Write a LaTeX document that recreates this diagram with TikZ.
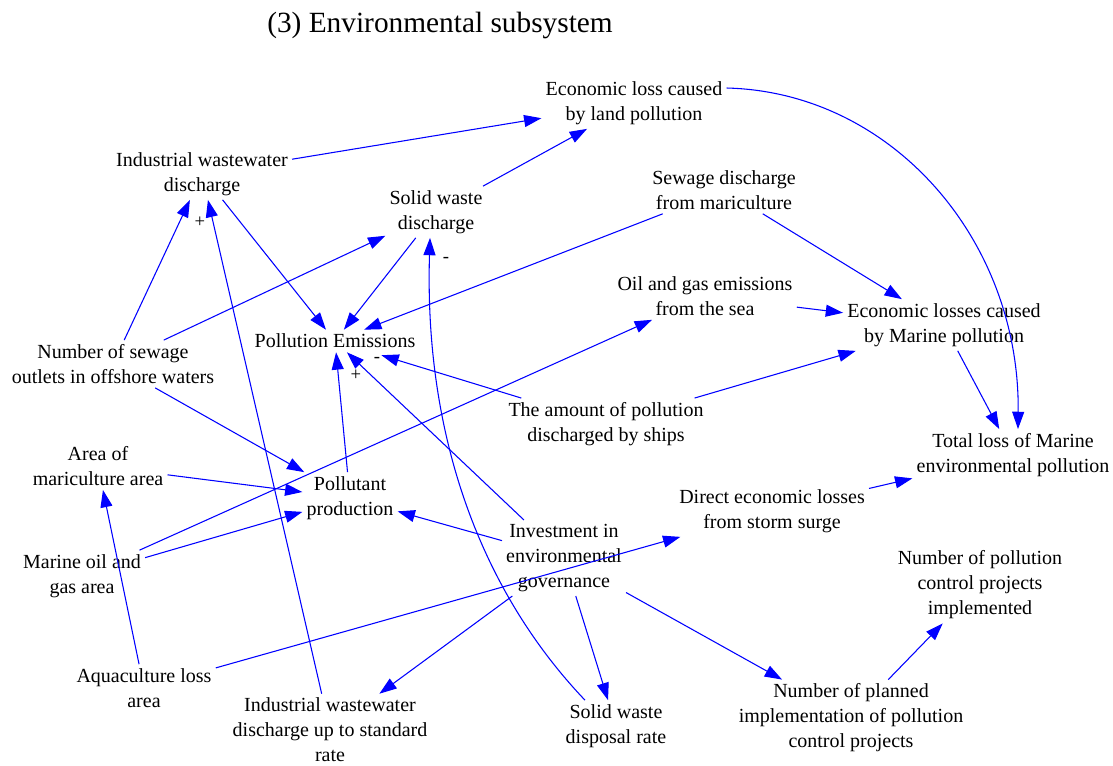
\documentclass[tikz,border=0pt]{standalone}
\usepackage{fontspec}
\setmainfont{Liberation Serif}
\usetikzlibrary{arrows.meta}
\definecolor{linkblue}{RGB}{0,0,255}
\begin{document}
\begin{tikzpicture}[x=0.75pt,y=-0.75pt,
  var/.style={align=center,inner sep=3pt,font=\fontsize{15}{18.75}\selectfont},
  link/.style={draw=linkblue,line width=0.8pt,-{Triangle[length=13pt,width=9pt]},fill=none},
  sign/.style={inner sep=0pt,font=\fontsize{14}{16}\selectfont}]
\useasboundingbox (0,0) rectangle (1113,765);

% heading
\node (title) at (440,25) {\fontsize{22}{26}\selectfont (3) Environmental subsystem};

% variables
\node[var] (land)  at (634,103) {Economic loss caused\\by land pollution};
\node[var] (iwd)   at (202,174) {Industrial wastewater\\discharge};
\node[var] (swd)   at (436,212) {Solid waste\\discharge};
\node[var] (smc)   at (724,190) {Sewage discharge\\from mariculture};
\node[var] (oge)   at (705,296) {Oil and gas emissions\\from the sea};
\node[var] (elm)   at (944,325) {Economic losses caused\\by Marine pollution};
\node[var] (pe)    at (335,341) {Pollution Emissions};
\node[var] (nso)   at (113,364) {Number of sewage\\outlets in offshore waters};
\node[var] (ships) at (606,424) {The amount of pollution\\discharged by ships};
\node[var] (tl)    at (1013,455) {Total loss of Marine\\environmental pollution};
\node[var] (area)  at (98,466) {Area of\\mariculture area};
\node[var] (pp)    at (350,498) {Pollutant\\production};
\node[var] (del)   at (772,511) {Direct economic losses\\from storm surge};
\node[var] (inv)   at (564,558) {Investment in\\environmental\\governance};
\node[var] (moga)  at (82,576) {Marine oil and\\gas area};
\node[var] (npc)   at (980,585) {Number of pollution\\control projects\\implemented};
\node[var] (aqua)  at (144,688) {Aquaculture loss\\area};
\node[var] (iwdr)  at (330,730) {Industrial wastewater\\discharge up to standard\\rate};
\node[var] (sdr)   at (616,726) {Solid waste\\disposal rate};
\node[var] (npi)   at (851,718) {Number of planned\\implementation of pollution\\control projects};

% polarity marks
\node[sign] (p1) at (200,222) {+};
\node[sign] (m1) at (446,260) {-};
\node[sign] (p2) at (356,375) {+};
\node[sign] (m2) at (377,360) {-};

% causal links
\draw[link] (iwd) -- (land);
\draw[link] (swd) -- (land);
\draw[link] ([shift={(0,-15)}]land.east) .. controls (892,92) and (1020,240) .. ([shift={(5,0)}]tl.north);
\draw[link] (iwd) -- (pe);
\draw[link] (swd) -- (pe);
\draw[link] (smc) -- (pe);
\draw[link] (smc) -- (elm);
\draw[link] (oge) -- (elm);
\draw[link] (elm) -- (tl);
\draw[link] (nso) -- (iwd);
\draw[link] (nso) -- (swd);
\draw[link] (nso) -- (pp);
\draw[link] (iwdr) -- (iwd);
\draw[link] ([shift={(-31,0)}]sdr.north) .. controls (483,593) and (424,440) .. ([shift={(-6,0)}]swd.south);
\draw[link] (pp) -- (pe);
\draw[link] (inv) -- (pe);
\draw[link,shorten >=7.5pt] (ships) -- (pe);
\draw[link] (ships) -- (elm);
\draw[link] (area) -- (pp);
\draw[link] (moga) -- (oge);
\draw[link] (moga) -- (pp);
\draw[link] (inv) -- (pp);
\draw[link] (aqua) -- (area);
\draw[link] (aqua) -- (del);
\draw[link] (del) -- (tl);
\draw[link] (inv) -- (iwdr);
\draw[link] (inv) -- (sdr);
\draw[link] (inv) -- (npi);
\draw[link] (npi) -- (npc);
\end{tikzpicture}
\end{document}
